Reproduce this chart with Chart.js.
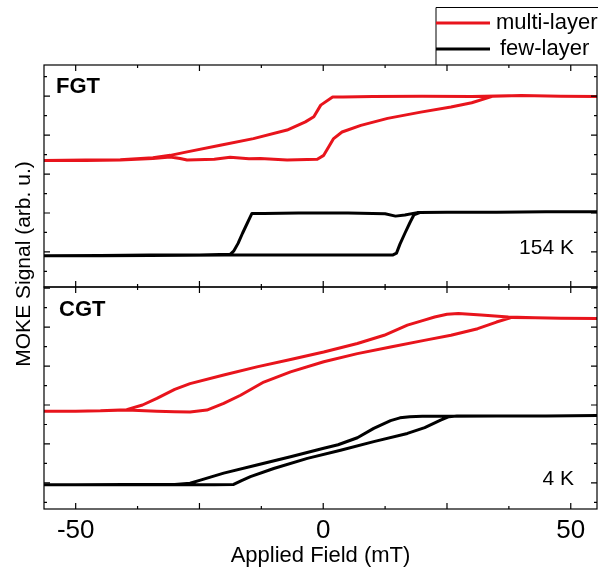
<!DOCTYPE html>
<html>
<head>
<meta charset="utf-8">
<script src="https://cdn.jsdelivr.net/npm/chart.js@4/dist/chart.umd.min.js"></script>
<style>
  body { margin: 0; background: #fff; }
  #wrap { width: 598px; height: 570px; position: relative; }
</style>
</head>
<body>
<div id="wrap"><canvas id="chart"></canvas></div>
<script>
// FGT multi-layer loop (154 K): down sweep then up sweep
const fgtMultiField = [55.5, 48, 40, 30, 20, 10, 4, 1.9, -0.5, -1.9, -3.6, -7.3, -14.1, -20.8, -27.5, -30.9, -34.4, -41, -48, -56.4,
  -48, -41, -34.4, -30.9, -28.9, -27.5, -22, -18.8, -15, -12.7, -7.3, -1.2, 0.1, 2.1, 3.8, 7.6, 13.0, 19.7, 25.8, 30, 34.3, 40, 48, 55.5];
const fgtMultiSignal = [3.99, 4.0, 4.02, 3.99, 4.0, 3.99, 3.98, 3.98, 3.77, 3.47, 3.34, 3.13, 2.91, 2.74, 2.57, 2.48, 2.42, 2.37, 2.36, 2.35,
  2.35, 2.36, 2.40, 2.44, 2.40, 2.36, 2.38, 2.43, 2.39, 2.40, 2.36, 2.38, 2.48, 2.91, 3.08, 3.25, 3.43, 3.59, 3.72, 3.83, 4.0, 4.02, 4.0, 3.99];

// FGT few-layer loop (154 K)
const fgtFewField = [55.5, 45, 35, 25, 19, 16.5, 14.6, 12.5, 5, -5, -12, -14.4, -15.3, -16.3, -17.2, -18.1, -18.8, -25, -35, -45, -56.4,
  -45, -35, -20, -10, 0, 10, 14.0, 14.8, 15.5, 16.5, 17.5, 18.3, 19.5, 25, 35, 45, 55.5];
const fgtFewSignal = [1.03, 1.03, 1.02, 1.02, 1.01, 0.95, 0.92, 0.98, 1.0, 1.0, 0.99, 0.99, 0.75, 0.48, 0.22, 0.02, -0.06, -0.08, -0.08, -0.09, -0.1,
  -0.1, -0.09, -0.08, -0.08, -0.08, -0.08, -0.08, -0.03, 0.2, 0.48, 0.75, 0.95, 1.01, 1.02, 1.02, 1.03, 1.03];

// CGT multi-layer loop (4 K)
const cgtMultiField = [55.5, 48, 42.8, 37.4, 31.9, 27.3, 25.0, 22.5, 20.4, 17.0, 12.3, 6.9, 0.1, -6.6, -13.4, -20.1, -26.9, -30, -33.6, -36.5, -39.7, -45, -50, -56.4,
  -50, -45, -39.7, -36, -33.6, -30, -26.9, -23.5, -20.1, -16.7, -12.0, -6.6, 0.1, 6.9, 13.6, 20.4, 25.8, 31.2, 35.0, 38.1, 42.8, 48, 55.5];
const cgtMultiSignal = [4.22, 4.23, 4.24, 4.26, 4.31, 4.35, 4.33, 4.26, 4.18, 4.05, 3.79, 3.58, 3.36, 3.17, 2.98, 2.77, 2.55, 2.40, 2.17, 2.0, 1.88, 1.85, 1.84, 1.84,
  1.84, 1.85, 1.87, 1.85, 1.84, 1.83, 1.82, 1.87, 2.04, 2.25, 2.59, 2.85, 3.11, 3.32, 3.49, 3.66, 3.79, 3.96, 4.13, 4.25, 4.24, 4.23, 4.22];

// CGT few-layer loop (4 K)
const cgtFewField = [55.5, 45, 35, 25, 20, 17.5, 15.5, 13.6, 10.2, 6.9, 3.0, 0.1, -6.6, -13.4, -20.1, -24.8, -26.9, -30, -40, -50, -56.4,
  -50, -40, -30, -22, -18.1, -16.5, -14.7, -10.0, -3.2, 3.5, 10.2, 17.0, 20.5, 23.7, 25.4, 27, 35, 45, 55.5];
const cgtFewSignal = [1.73, 1.72, 1.72, 1.71, 1.71, 1.70, 1.67, 1.60, 1.40, 1.16, 0.98, 0.89, 0.67, 0.46, 0.25, 0.07, -0.01, -0.04, -0.04, -0.05, -0.05,
  -0.05, -0.05, -0.05, -0.05, -0.04, 0.06, 0.16, 0.37, 0.63, 0.84, 1.06, 1.27, 1.42, 1.61, 1.70, 1.72, 1.72, 1.72, 1.73];

const xTickLabels = [-50, 0, 50];
const xMinorTicks = [-50, -37.5, -25, -12.5, 0, 12.5, 25, 37.5, 50];
const yMinorTicks = [-0.5, 0, 0.5, 1, 1.5, 2, 2.5, 3, 3.5, 4, 4.5, 5];

const RED = '#e8141c';
const FONT = "'Liberation Sans', Arial, sans-serif";

const pts = (xs, ys) => xs.map((x, i) => ({ x: x, y: ys[i] }));

// frame, inward ticks, labels and the boxed legend
const decorations = {
  id: 'decorations',
  afterDatasetsDraw(chart) {
    const { ctx, chartArea: a, scales } = chart;
    const x = scales.x;
    ctx.save();
    ctx.strokeStyle = '#000';
    ctx.lineWidth = 1.2;
    [scales.yTop, scales.yBot].forEach(y => {
      ctx.strokeRect(a.left, y.top, a.right - a.left, y.bottom - y.top);
      ctx.beginPath();
      xMinorTicks.forEach(v => {
        const px = x.getPixelForValue(v);
        const len = v % 25 === 0 ? 6 : 3;
        ctx.moveTo(px, y.top); ctx.lineTo(px, y.top + len);
        ctx.moveTo(px, y.bottom); ctx.lineTo(px, y.bottom - len);
      });
      yMinorTicks.forEach(v => {
        if (v <= y.min || v >= y.max) return;
        const py = y.getPixelForValue(v);
        const len = Number.isInteger(v) ? 6 : 3;
        ctx.moveTo(a.left, py); ctx.lineTo(a.left + len, py);
        ctx.moveTo(a.right, py); ctx.lineTo(a.right - len, py);
      });
      ctx.stroke();
    });

    ctx.fillStyle = '#000';
    ctx.textBaseline = 'middle';
    ctx.font = 'bold 22px ' + FONT;
    ctx.textAlign = 'left';
    ctx.fillText('FGT', 56, 87);
    ctx.fillText('CGT', 59, 310);
    ctx.font = '21px ' + FONT;
    ctx.textAlign = 'right';
    ctx.fillText('154 K', 574, 248);
    ctx.fillText('4 K', 574, 479);

    // y title spanning both panels
    ctx.save();
    ctx.translate(24, 264);
    ctx.rotate(-Math.PI / 2);
    ctx.textAlign = 'center';
    ctx.font = '21px ' + FONT;
    ctx.fillText('MOKE Signal (arb. u.)', 0, 0);
    ctx.restore();

    // legend box
    ctx.lineWidth = 1;
    ctx.beginPath();
    ctx.moveTo(436, a.top);
    ctx.lineTo(436, 7.5);
    ctx.lineTo(600, 7.5);
    ctx.stroke();
    ctx.lineWidth = 3;
    ctx.strokeStyle = RED;
    ctx.beginPath(); ctx.moveTo(436, 23); ctx.lineTo(490, 23); ctx.stroke();
    ctx.strokeStyle = '#000';
    ctx.beginPath(); ctx.moveTo(436, 49); ctx.lineTo(490, 49); ctx.stroke();
    ctx.font = '22px ' + FONT;
    ctx.textAlign = 'left';
    ctx.fillText('multi-layer', 496, 23);
    ctx.fillText('few-layer', 500, 49);
    ctx.restore();
  }
};

const hiddenY = (min, max) => ({
  type: 'linear', min: min, max: max, position: 'left', stack: 'panels', stackWeight: 1,
  ticks: { display: false }, grid: { display: false, drawTicks: false }, border: { display: false },
  afterFit: s => { s.width = 0; }
});

new Chart(document.getElementById('chart'), {
  type: 'line',
  data: {
    datasets: [
      { label: 'FGT multi-layer', data: pts(fgtMultiField, fgtMultiSignal), yAxisID: 'yTop', borderColor: RED },
      { label: 'FGT few-layer', data: pts(fgtFewField, fgtFewSignal), yAxisID: 'yTop', borderColor: '#000' },
      { label: 'CGT multi-layer', data: pts(cgtMultiField, cgtMultiSignal), yAxisID: 'yBot', borderColor: RED },
      { label: 'CGT few-layer', data: pts(cgtFewField, cgtFewSignal), yAxisID: 'yBot', borderColor: '#000' }
    ]
  },
  options: {
    responsive: true,
    maintainAspectRatio: false,
    animation: false,
    layout: { padding: { left: 44, top: 65, right: 1, bottom: 0 } },
    elements: {
      line: { borderWidth: 3, tension: 0, borderJoinStyle: 'round', borderCapStyle: 'round' },
      point: { radius: 0 }
    },
    plugins: { legend: { display: false }, tooltip: { enabled: false } },
    scales: {
      x: {
        type: 'linear', min: -56.4, max: 55.3, position: 'bottom',
        afterBuildTicks: s => { s.ticks = xTickLabels.map(v => ({ value: v })); },
        ticks: { color: '#000', font: { family: FONT, size: 26 }, padding: 6, maxRotation: 0, autoSkip: false },
        grid: { display: false, drawTicks: false },
        border: { display: false },
        title: { display: true, text: 'Applied Field (mT)', color: '#000', font: { family: FONT, size: 22 }, padding: { top: 0, bottom: 1 } },
        afterFit: s => { s.height = 61; }
      },
      yBot: hiddenY(-0.67, 5.03),
      yTop: hiddenY(-0.9, 4.8)
    }
  },
  plugins: [decorations]
});
</script>
</body>
</html>
